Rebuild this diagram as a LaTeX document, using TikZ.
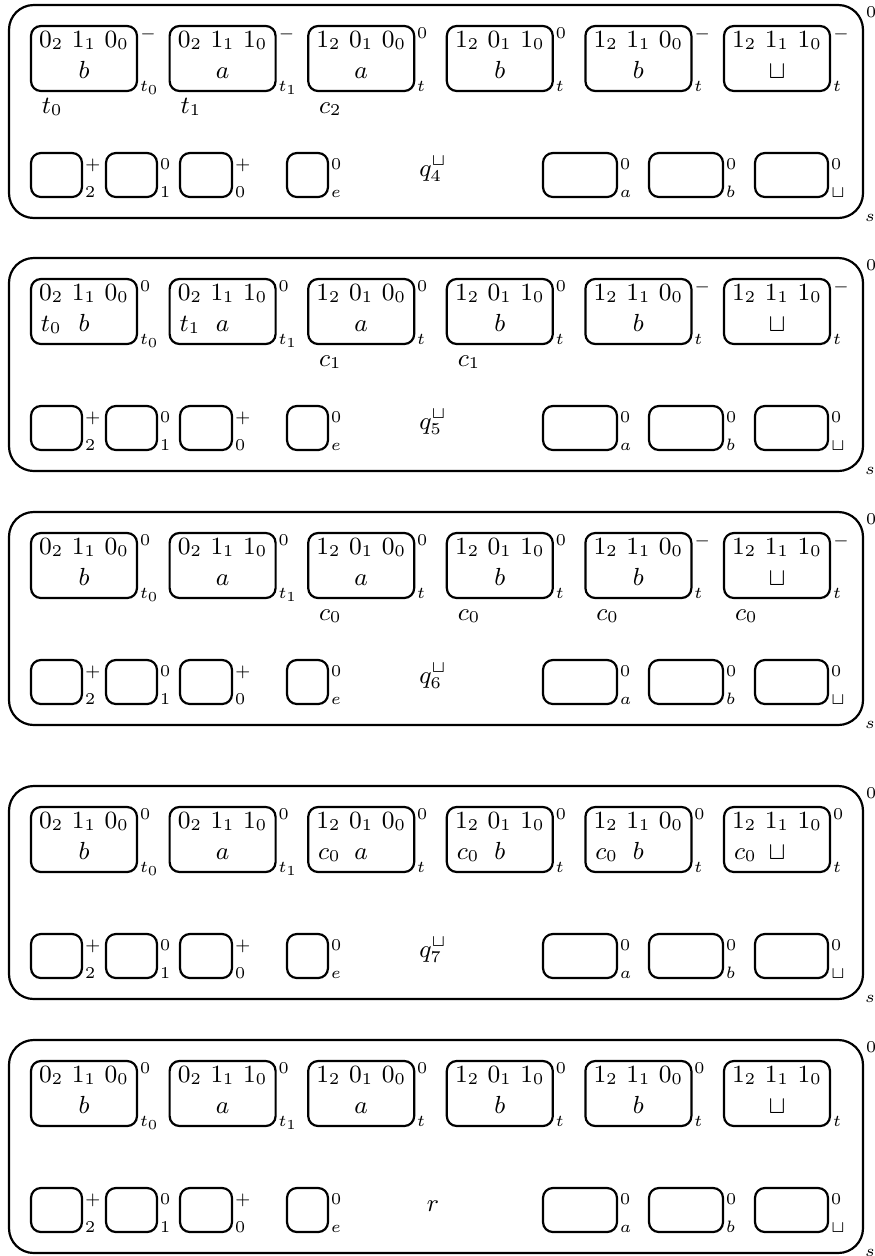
\documentclass[tikz,border=0pt]{standalone}
\def\pxu{0.3636pt}
\newcommand\bits[3]{$#1_2$ $#2_1$ $#3_0$}
\newcommand\outerframe[2]{%
  \node[outerbox] (#1) at (436,#2+106.5) {};
  \path (#1.north east) ++(3,12) node[scr,anchor=base west] (#1-sup) {$\scriptstyle 0$};
  \path (#1.south east) ++(2,3) node[scr,anchor=base west] (#1-sub) {$\scriptstyle s$};
}
\newcommand\cell[7]{%
  \node[cellbox] (#1) at (#2+53,#3+53.5) {};
  \path (#1.north) ++(0,21) node[txt,anchor=base] (#1-a) {#4};
  \path (#1.north) ++(0,52) node[txt,anchor=base] (#1-b) {$#5$};
  \path (#1.north east) ++(3,12) node[scr,anchor=base west] (#1-sup) {$\scriptstyle #6$};
  \path (#1.south east) ++(3,0) node[scr,anchor=base west] (#1-sub) {$\scriptstyle #7$};
}
\newcommand\cellmark[2]{%
  \path (#1.north west) ++(10,52) node[txt,anchor=base west] (#1-m) {$#2$};
}
\newcommand\below[2]{%
  \path (#1.south west) ++(11,22) node[txt,anchor=base west] (#1-bl) {$#2$};
}
\newcommand\smallcell[6]{%
  \node[smallbox,minimum width=#4*\pxu] (#1) at (#2+#4/2,#3+170) {};
  \path (#1.north east) ++(3,16) node[scr,anchor=base west] (#1-sup) {$\scriptstyle #5$};
  \path (#1.south east) ++(3,0) node[scr,anchor=base west] (#1-sub) {$\scriptstyle #6$};
}
\newcommand\bottomrow[3]{%
  \smallcell{#1s2}{31}{#2}{51}{+}{2}
  \smallcell{#1s1}{106}{#2}{51}{0}{1}
  \smallcell{#1s0}{180}{#2}{52}{+}{0}
  \smallcell{#1se}{287}{#2}{41}{0}{e}
  \node[txt,anchor=base] (#1q) at (433,#2+171.5) {$#3$};
  \smallcell{#1sa}{543}{#2}{74}{0}{a}
  \smallcell{#1sb}{649}{#2}{74}{0}{b}
  \smallcell{#1su}{755}{#2}{73}{0}{\sqcup}
}
\begin{document}
\begin{tikzpicture}[x=0.3636pt,y=-0.3636pt,
  outerbox/.style={draw,thick,rounded corners=9pt,inner sep=0pt,outer sep=0pt,
    minimum width=854*\pxu,minimum height=213*\pxu},
  cellbox/.style={draw,thick,rounded corners=3.6pt,inner sep=0pt,outer sep=0pt,
    minimum width=106*\pxu,minimum height=65*\pxu},
  smallbox/.style={draw,thick,rounded corners=3.6pt,inner sep=0pt,outer sep=0pt,
    minimum height=44*\pxu},
  txt/.style={inner sep=0pt,outer sep=0pt,font=\small},
  scr/.style={inner sep=0pt,outer sep=0pt,font=\small}]
\useasboundingbox (0,0) rectangle (875,1256);

% ---------- state 1 ----------
\outerframe{A}{5}
\cell{A1}{31}{5}{\bits010}{b}{-}{t_0}
\cell{A2}{169.6}{5}{\bits011}{a}{-}{t_1}
\cell{A3}{308.2}{5}{\bits100}{a}{0}{t}
\cell{A4}{446.8}{5}{\bits101}{b}{0}{t}
\cell{A5}{585.4}{5}{\bits110}{b}{-}{t}
\cell{A6}{724}{5}{\bits111}{\sqcup}{-}{t}
\below{A1}{t_0}
\below{A2}{t_1}
\below{A3}{c_2}
\bottomrow{A}{5}{q_4^{\sqcup}}

% ---------- state 2 ----------
\outerframe{B}{258}
\cell{B1}{31}{258}{\bits010}{b}{0}{t_0}
\cell{B2}{169.6}{258}{\bits011}{a}{0}{t_1}
\cell{B3}{308.2}{258}{\bits100}{a}{0}{t}
\cell{B4}{446.8}{258}{\bits101}{b}{0}{t}
\cell{B5}{585.4}{258}{\bits110}{b}{-}{t}
\cell{B6}{724}{258}{\bits111}{\sqcup}{-}{t}
\cellmark{B1}{t_0}
\cellmark{B2}{t_1}
\below{B3}{c_1}
\below{B4}{c_1}
\bottomrow{B}{258}{q_5^{\sqcup}}

% ---------- state 3 ----------
\outerframe{C}{512}
\cell{C1}{31}{512}{\bits010}{b}{0}{t_0}
\cell{C2}{169.6}{512}{\bits011}{a}{0}{t_1}
\cell{C3}{308.2}{512}{\bits100}{a}{0}{t}
\cell{C4}{446.8}{512}{\bits101}{b}{0}{t}
\cell{C5}{585.4}{512}{\bits110}{b}{-}{t}
\cell{C6}{724}{512}{\bits111}{\sqcup}{-}{t}
\below{C3}{c_0}
\below{C4}{c_0}
\below{C5}{c_0}
\below{C6}{c_0}
\bottomrow{C}{512}{q_6^{\sqcup}}

% ---------- state 4 ----------
\outerframe{D}{786}
\cell{D1}{31}{786}{\bits010}{b}{0}{t_0}
\cell{D2}{169.6}{786}{\bits011}{a}{0}{t_1}
\cell{D3}{308.2}{786}{\bits100}{a}{0}{t}
\cell{D4}{446.8}{786}{\bits101}{b}{0}{t}
\cell{D5}{585.4}{786}{\bits110}{b}{0}{t}
\cell{D6}{724}{786}{\bits111}{\sqcup}{0}{t}
\cellmark{D3}{c_0}
\cellmark{D4}{c_0}
\cellmark{D5}{c_0}
\cellmark{D6}{c_0}
\bottomrow{D}{786}{q_7^{\sqcup}}

% ---------- state 5 ----------
\outerframe{E}{1040}
\cell{E1}{31}{1040}{\bits010}{b}{0}{t_0}
\cell{E2}{169.6}{1040}{\bits011}{a}{0}{t_1}
\cell{E3}{308.2}{1040}{\bits100}{a}{0}{t}
\cell{E4}{446.8}{1040}{\bits101}{b}{0}{t}
\cell{E5}{585.4}{1040}{\bits110}{b}{0}{t}
\cell{E6}{724}{1040}{\bits111}{\sqcup}{}{t}
\bottomrow{E}{1040}{r}
\end{tikzpicture}
\end{document}
